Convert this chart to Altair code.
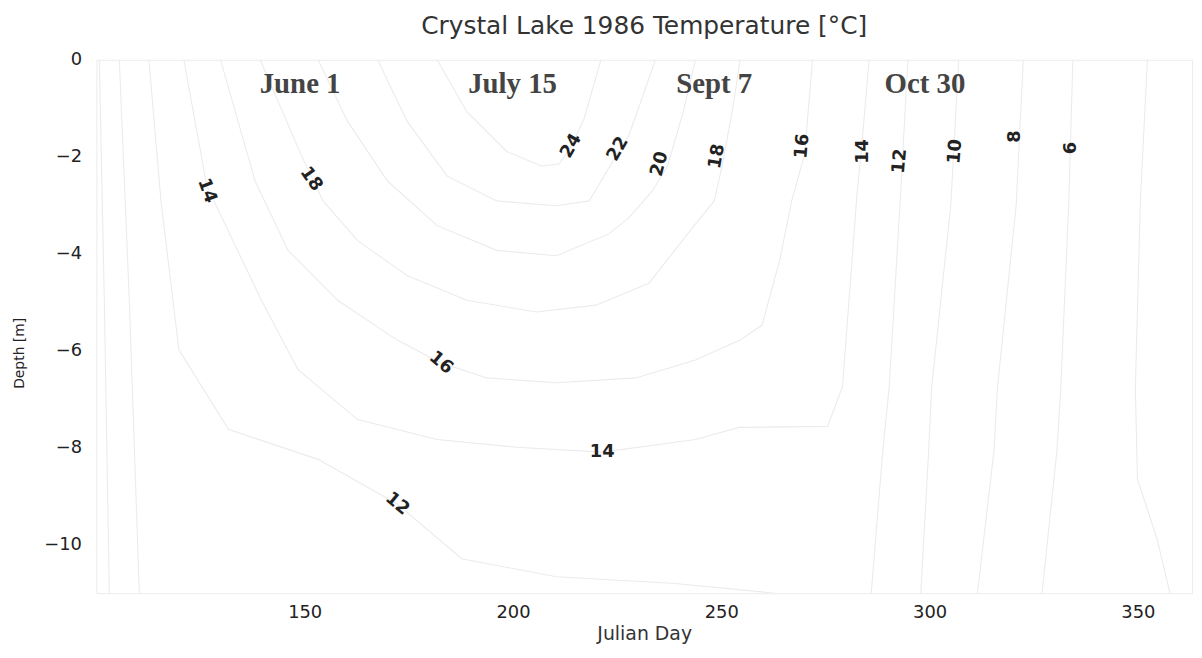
import altair as alt
import pandas as pd

# ---------------- contour lines (Julian day, depth in m) ----------------
c8_spring_day = [100.7, 101.9, 103.1]
c8_spring_depth = [0, -4.96, -11]

c10_spring_day = [105.5, 107.9, 110.3]
c10_spring_depth = [0, -4.96, -11]

c12_spring_day = [112.6, 115.5, 119.8, 131.7, 153.2, 172.2, 187.7, 210.4, 239.0, 262.9]
c12_spring_depth = [0, -2.91, -5.98, -7.62, -8.24, -9.16, -10.29, -10.66, -10.80, -11]

c14_day = [121.0, 126.5, 139.6, 148.4, 162.7, 181.8, 200.9, 221.4, 243.8, 254.3, 275.5, 279.1, 282.6, 283.6, 285.5]
c14_depth = [0, -2.60, -4.96, -6.39, -7.42, -7.83, -7.99, -8.09, -7.83, -7.58, -7.56, -6.74, -2.75, -1.89, 0]

c16_day = [129.8, 138.1, 146.0, 157.9, 172.2, 182.7, 193.7, 210.4, 229.5, 243.8, 254.5, 259.8, 264.0, 266.9, 270.0, 271.9]
c16_depth = [0, -2.50, -3.93, -4.96, -5.78, -6.25, -6.56, -6.66, -6.56, -6.19, -5.78, -5.47, -4.14, -2.91, -1.95, 0]

c18_day = [139.3, 149.1, 154.4, 162.7, 174.6, 188.9, 205.6, 219.9, 232.6, 243.1, 248.3, 250.2, 252.8, 254.5]
c18_depth = [0, -1.95, -2.91, -3.73, -4.45, -4.96, -5.20, -5.06, -4.61, -3.46, -2.91, -2.19, -0.98, 0]

c20_day = [153.2, 160.3, 169.9, 181.8, 196.1, 210.4, 223.0, 227.8, 233.5, 237.1, 240.9, 243.8]
c20_depth = [0, -1.27, -2.50, -3.42, -3.93, -4.04, -3.59, -3.26, -2.70, -2.19, -1.07, 0]

c22_day = [167.5, 174.6, 184.2, 196.1, 210.4, 218.3, 223.0, 227.8, 230.7, 234.2]
c22_depth = [0, -1.27, -2.40, -2.91, -3.01, -2.91, -2.23, -1.56, -0.86, 0]

c24_day = [181.8, 188.9, 198.5, 206.8, 211.1, 214.0, 217.1, 221.1]
c24_depth = [0, -1.07, -1.89, -2.19, -2.15, -1.78, -1.21, 0]

c12_fall_day = [294.8, 292.9, 290.3, 288.8, 286.0]
c12_fall_depth = [0, -2.99, -6.76, -8.03, -11]

c10_fall_day = [307.0, 305.1, 300.5, 299.8, 297.9]
c10_fall_depth = [0, -2.99, -6.76, -8.03, -11]

c8_fall_day = [322.5, 320.8, 316.3, 315.5, 311.5]
c8_fall_depth = [0, -2.99, -6.76, -8.03, -11]

c6_fall_day = [334.4, 333.4, 331.5, 330.6, 327.0]
c6_fall_depth = [0, -2.99, -6.76, -8.03, -11]

c4_fall_day = [352.3, 350.6, 349.4, 349.9, 354.6, 357.7]
c4_fall_depth = [0, -2.91, -6.76, -8.65, -9.88, -11]

# ---------------- contour labels ----------------
label_text = ["24", "22", "20", "18", "16", "14", "12", "10", "8", "6", "14", "18", "16", "14", "12"]
label_day = [214.0, 225.2, 235.2, 249.0, 269.5, 284.1, 292.9, 306.2, 320.6, 333.9, 126.5, 151.5, 182.7, 221.4, 172.2]
label_depth = [-1.78, -1.84, -2.15, -1.99, -1.78, -1.89, -2.09, -1.89, -1.58, -1.82, -2.70, -2.46, -6.25, -8.09, -9.16]
label_angle = [300, 300, 285, 280, 275, 270, 275, 275, 270, 270, 70, 55, 40, 0, 40]

# ---------------- date annotations ----------------
event_text = ["June 1", "July 15", "Sept 7", "Oct 30"]
event_day = [148.9, 199.9, 248.3, 298.9]
event_depth = [-0.51, -0.51, -0.51, -0.51]

x_ticks = [150, 200, 250, 300, 350]
y_ticks = [0, -2, -4, -6, -8, -10]

contours = [
    ("c8s", c8_spring_day, c8_spring_depth),
    ("c10s", c10_spring_day, c10_spring_depth),
    ("c12s", c12_spring_day, c12_spring_depth),
    ("c14", c14_day, c14_depth),
    ("c16", c16_day, c16_depth),
    ("c18", c18_day, c18_depth),
    ("c20", c20_day, c20_depth),
    ("c22", c22_day, c22_depth),
    ("c24", c24_day, c24_depth),
    ("c12f", c12_fall_day, c12_fall_depth),
    ("c10f", c10_fall_day, c10_fall_depth),
    ("c8f", c8_fall_day, c8_fall_depth),
    ("c6f", c6_fall_day, c6_fall_depth),
    ("c4f", c4_fall_day, c4_fall_depth),
]
rows = []
for name, days, depths in contours:
    for i, (d, z) in enumerate(zip(days, depths)):
        rows.append({"contour": name, "day": d, "depth": z, "idx": i})
lines_df = pd.DataFrame(rows)

labels_df = pd.DataFrame({"text": label_text, "day": label_day, "depth": label_depth, "angle": label_angle})
events_df = pd.DataFrame({"text": event_text, "day": event_day, "depth": event_depth})

xscale = alt.Scale(domain=[100, 363], nice=False, zero=False)
yscale = alt.Scale(domain=[-11, 0], nice=False, zero=False)

xaxis = alt.Axis(values=x_ticks, title="Julian Day", grid=False, domain=False, ticks=False,
                 labelPadding=10, titleY=41, titleBaseline="middle",
                 titleFontSize=19, titleFont="DejaVu Sans", titleFontWeight="normal", titleColor="#333")
yaxis = alt.Axis(values=y_ticks, title="Depth [m]", grid=False, domain=False, ticks=False,
                 labelPadding=15, titleX=-77, titleY=295, titleAlign="center", titleBaseline="middle",
                 titleFontSize=14, titleFont="DejaVu Sans", titleFontWeight="normal", titleColor="#222")

lines = alt.Chart(lines_df).mark_line(color="#ebebeb", strokeWidth=1.1, clip=True).encode(
    x=alt.X("day:Q", scale=xscale, axis=xaxis),
    y=alt.Y("depth:Q", scale=yscale, axis=yaxis),
    detail="contour:N",
    order="idx:Q",
)

labels = alt.Chart(labels_df).mark_text(font="DejaVu Sans", fontSize=18, fontWeight="bold",
                                         color="#222", align="center", baseline="middle").encode(
    x=alt.X("day:Q", scale=xscale),
    y=alt.Y("depth:Q", scale=yscale),
    text="text:N",
    angle=alt.Angle("angle:Q", scale=None),
)

events = alt.Chart(events_df).mark_text(font="Liberation Serif", fontSize=29, fontWeight="bold",
                                         color="#444", align="center", baseline="middle").encode(
    x=alt.X("day:Q", scale=xscale),
    y=alt.Y("depth:Q", scale=yscale),
    text="text:N",
)

chart = alt.layer(lines, labels, events).properties(
    width=1103,
    height=537,
    title=alt.Title("Crystal Lake 1986 Temperature [°C]", anchor="middle", fontSize=25,
                    font="DejaVu Sans", fontWeight="normal", color="#333", offset=12),
    padding={"left": 89, "top": 50, "right": 2, "bottom": 51},
    autosize=alt.AutoSizeParams(type="none"),
).configure_axis(
    labelFont="DejaVu Sans", labelFontSize=18, labelColor="#222",
).configure_view(
    stroke="#ececec", strokeWidth=1,
)

chart.save("out.html", embed_options={"renderer": "svg", "actions": False})
